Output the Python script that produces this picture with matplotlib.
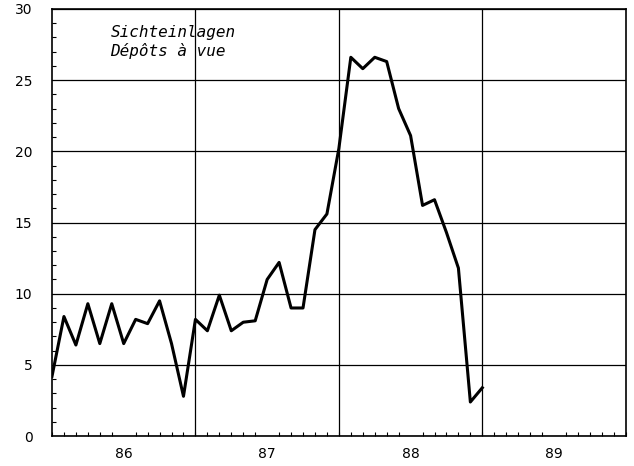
import numpy as np
import matplotlib.pyplot as plt
from matplotlib.ticker import MultipleLocator

# monthly values, Jan 1986 .. Jan 1989
start_year = 86
values = [4.2, 8.4, 6.4, 9.3, 6.5, 9.3, 6.5, 8.2, 7.9, 9.5, 6.5, 2.8,
          8.2, 7.4, 9.9, 7.4, 8.0, 8.1, 11.0, 12.2, 9.0, 9.0, 14.5, 15.6,
          20.2, 26.6, 25.8, 26.6, 26.3, 23.0, 21.1, 16.2, 16.6, 14.3, 11.8, 2.4,
          3.4]
year_labels = ["86", "87", "88", "89"]
title_lines = ["Sichteinlagen", "Dépôts à vue"]

x = start_year + np.arange(len(values)) / 12

fig = plt.figure(figsize=(6.34, 4.66), dpi=100)
ax = fig.add_axes([0.082, 0.064, 0.905, 0.917])

ax.plot(x, values, color="black", lw=2.2, zorder=3)

ax.set_xlim(86, 90)
ax.set_ylim(0, 30)

# year boundaries
for yr in range(87, 90):
    ax.axvline(yr, color="black", lw=0.9, zorder=1)
ax.yaxis.grid(True, color="black", lw=0.9)

centers = np.arange(len(year_labels)) + start_year + 0.5
ax.set_xticks(centers)
ax.set_xticklabels(year_labels)
ax.xaxis.set_minor_locator(MultipleLocator(1 / 12))
ax.yaxis.set_major_locator(MultipleLocator(5))
ax.yaxis.set_minor_locator(MultipleLocator(1))

ax.tick_params(axis="x", which="major", length=0, pad=8, labelsize=10)
ax.tick_params(axis="y", which="major", length=0, pad=14, labelsize=10)
ax.tick_params(which="minor", direction="in", length=3, width=0.8)

for s in ax.spines.values():
    s.set_linewidth(1.2)

ax.text(0.102, 0.962, "\n".join(title_lines), transform=ax.transAxes,
        family="DejaVu Sans Mono", style="italic", fontsize=11.5,
        va="top", ha="left", linespacing=1.25)

fig.savefig("out.png", dpi=100)
